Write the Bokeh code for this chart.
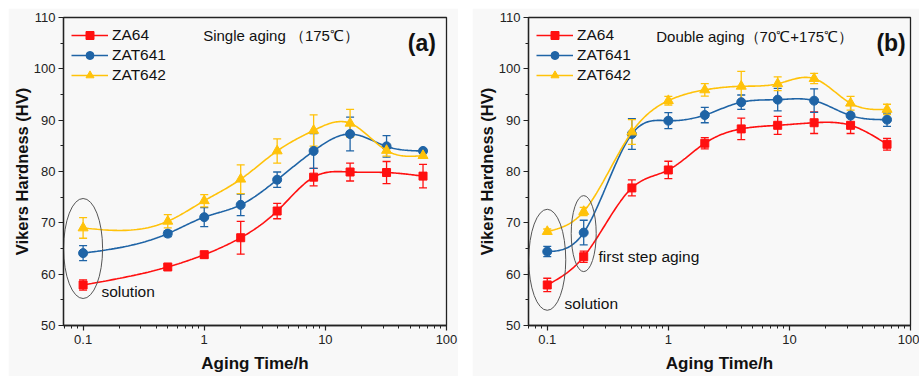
import numpy as np
from bokeh.plotting import figure
from bokeh.layouts import row, column
from bokeh.models import (ColumnDataSource, Whisker, TeeHead, FixedTicker, CustomJSTickFormatter,
                          Legend, LegendItem, Label, Range1d, Spacer)
from bokeh.core.properties import value
from bokeh.embed import file_html
from bokeh.resources import INLINE

# ---------------- data ----------------
series_names = ["ZA64", "ZAT641", "ZAT642"]

time_a = [0.1, 0.5, 1, 2, 4, 8, 16, 32, 64]
za64_a = [57.9, 61.4, 63.8, 67.1, 72.3, 78.9, 79.9, 79.8, 79.1]
za64_a_err = [1.0, 0.5, 0.6, 3.2, 1.5, 1.7, 1.75, 2.15, 2.3]
zat641_a = [64.1, 67.9, 71.1, 73.5, 78.4, 84.0, 87.3, 84.9, 84.0]
zat641_a_err = [1.45, 0.6, 1.85, 2.1, 1.5, 3.4, 3.3, 2.1, 0.4]
zat642_a = [69.0, 70.3, 74.3, 78.5, 84.0, 88.0, 89.4, 84.1, 83.1]
zat642_a_err = [2.0, 1.3, 1.2, 2.8, 2.35, 3.05, 2.7, 1.1, 0.5]

time_b = [0.1, 0.2, 0.5, 1, 2, 4, 8, 16, 32, 64]
za64_b = [57.9, 63.4, 76.8, 80.3, 85.5, 88.3, 89.0, 89.5, 89.0, 85.3]
za64_b_err = [1.3, 1.1, 1.55, 1.7, 1.1, 2.1, 1.75, 2.1, 1.6, 1.15]
zat641_b = [64.4, 68.1, 87.3, 89.9, 91.0, 93.5, 94.0, 93.8, 90.9, 90.1]
zat641_b_err = [1.0, 2.4, 3.0, 1.55, 1.5, 1.4, 2.2, 2.3, 2.0, 1.3]
zat642_b = [68.3, 72.2, 87.7, 93.8, 95.9, 96.6, 97.1, 98.1, 93.3, 92.1]
zat642_b_err = [0.5, 0.8, 2.4, 0.85, 1.2, 2.9, 1.35, 1.0, 1.35, 1.0]

x_ticks = [0.1, 1, 10, 100]
x_tick_labels = ["0.1", "1", "10", "100"]
x_minor = [0.07, 0.08, 0.09] + [k * 0.1 for k in range(2, 10)] + list(range(2, 10)) + [k * 10 for k in range(2, 10)]
y_ticks = [50, 60, 70, 80, 90, 100, 110]
y_minor = [55, 65, 75, 85, 95, 105]

colors = ["#FF1010", "#1F64A6", "#FFC20A"]
markers = ["square", "circle", "triangle"]
msizes = [8, 9, 10]

FONT = "Liberation Sans"
BG = "#f8f8f8"


def natural_spline(x, y, n=30):
    t = np.log10(np.asarray(x, float))
    y = np.asarray(y, float)
    m = len(t)
    h = np.diff(t)
    A = np.zeros((m, m))
    r = np.zeros(m)
    A[0, 0] = 1
    A[-1, -1] = 1
    for i in range(1, m - 1):
        A[i, i - 1] = h[i - 1]
        A[i, i] = 2 * (h[i - 1] + h[i])
        A[i, i + 1] = h[i]
        r[i] = 6 * ((y[i + 1] - y[i]) / h[i] - (y[i] - y[i - 1]) / h[i - 1])
    M = np.linalg.solve(A, r)
    xs, ys = [], []
    for i in range(m - 1):
        tt = np.linspace(t[i], t[i + 1], n, endpoint=(i == m - 2))
        hi = h[i]
        s = (M[i] * (t[i + 1] - tt) ** 3 / (6 * hi) + M[i + 1] * (tt - t[i]) ** 3 / (6 * hi)
             + (y[i] / hi - M[i] * hi / 6) * (t[i + 1] - tt) + (y[i + 1] / hi - M[i + 1] * hi / 6) * (tt - t[i]))
        xs.extend(10 ** tt)
        ys.extend(s)
    return xs, ys


def make_panel(width, x_start, border_left, border_right, times, vals, errs,
               title_txt, title_pos, tag, tag_pos, notes, ellipses):
    p = figure(width=width, height=368, x_axis_type="log",
               x_range=Range1d(x_start, 100), y_range=Range1d(50, 110),
               output_backend="svg", toolbar_location=None,
               min_border_left=border_left, min_border_right=border_right,
               min_border_top=9, min_border_bottom=51,
               background_fill_color=BG, border_fill_color=BG)
    p.grid.visible = False
    p.outline_line_color = "#222222"
    p.outline_line_width = 1.3

    p.xaxis.ticker = FixedTicker(ticks=x_ticks, minor_ticks=x_minor)
    p.xaxis.formatter = CustomJSTickFormatter(args=dict(tv=x_ticks, tl=x_tick_labels), code="""
        let best = 0, bd = 1e9;
        for (let i = 0; i < tv.length; i++) {
            const d = Math.abs(Math.log10(tv[i]) - Math.log10(tick));
            if (d < bd) { bd = d; best = i; }
        }
        return tl[best];
    """)
    p.yaxis.ticker = FixedTicker(ticks=y_ticks, minor_ticks=y_minor)
    for ax in (p.xaxis, p.yaxis):
        ax.axis_line_color = "#222222"
        ax.axis_line_width = 1.3
        ax.major_tick_line_color = "#222222"
        ax.minor_tick_line_color = "#222222"
        ax.major_tick_line_width = 1.2
        ax.major_tick_out = 5
        ax.major_tick_in = 0
        ax.minor_tick_out = 3
        ax.minor_tick_in = 0
        ax.major_label_text_font = FONT
        ax.major_label_text_font_size = "13px"
        ax.major_label_text_color = "#222222"
        ax.axis_label_text_font = FONT
        ax.axis_label_text_font_style = "bold"
        ax.axis_label_text_color = "#111111"
    p.xaxis.major_label_standoff = 4
    p.yaxis.major_label_standoff = 3
    p.xaxis.axis_label = "Aging Time/h"
    p.xaxis.axis_label_text_font_size = "17px"
    p.xaxis.axis_label_standoff = 7
    p.yaxis.axis_label = "Vikers Hardness (HV)"
    p.yaxis.axis_label_text_font_size = "16.5px"
    p.yaxis.axis_label_standoff = 0

    items = []
    for k in range(3):
        c = colors[k]
        sx, sy = natural_spline(times, vals[k])
        lr = p.line(sx, sy, line_color=c, line_width=1.6)
        lo = [v - e for v, e in zip(vals[k], errs[k])]
        up = [v + e for v, e in zip(vals[k], errs[k])]
        src = ColumnDataSource(dict(x=times, y=vals[k], lower=lo, upper=up))
        w = Whisker(source=src, base="x", lower="lower", upper="upper",
                    line_color=c, line_width=1.3,
                    upper_head=TeeHead(size=8, line_color=c, line_width=1.3),
                    lower_head=TeeHead(size=8, line_color=c, line_width=1.3))
        p.add_layout(w)
        sr = p.scatter("x", "y", source=src, marker=markers[k], size=msizes[k],
                       fill_color=c, line_color=c)
        items.append(LegendItem(label=series_names[k], renderers=[lr, sr]))

    leg = Legend(items=items, location="top_left", margin=2, padding=6,
                 spacing=0, glyph_width=37, glyph_height=20, label_height=20,
                 label_standoff=4, label_text_font=FONT, label_text_font_size="15.5px",
                 label_text_color="#111111", background_fill_alpha=0, border_line_alpha=0)
    p.add_layout(leg)

    for (ex, ey, ew, eh) in ellipses:
        p.ellipse(x=[ex], y=[ey], width=ew, height=eh, width_units="screen",
                  height_units="screen", fill_color=None, line_color="#555555", line_width=1)

    p.add_layout(Label(x=title_pos[0], y=title_pos[1], text=title_txt, text_font=FONT,
                       text_font_size="15px", text_baseline="middle", text_color="#111111"))
    p.add_layout(Label(x=tag_pos[0], y=tag_pos[1], text=tag, text_font=FONT,
                       text_font_size="23px", text_font_style="bold", text_align="right",
                       text_baseline="middle", text_color="#111111"))
    for (tx, ty, tt) in notes:
        p.add_layout(Label(x=tx, y=ty, text=tt, text_font=FONT, text_font_size="15.5px",
                           text_baseline="middle", text_color="#111111"))
    return p


pa = make_panel(450, 0.0689, 55, 12, time_a,
                [za64_a, zat641_a, zat642_a], [za64_a_err, zat641_a_err, zat642_a_err],
                "Single aging （175℃）", (0.98, 106.5), "(a)", (81.8, 105.1),
                [(0.1416, 56.6, "solution")],
                [(0.1, 65.0, 39, 100)])

pb = make_panel(447, 0.070, 56, 9, time_b,
                [za64_b, zat641_b, zat642_b], [za64_b_err, zat641_b_err, zat642_b_err],
                "Double aging（70℃+175℃）", (0.794, 106.3), "(b)", (91.4, 105.1),
                [(0.265, 63.4, "first step aging"), (0.139, 54.3, "solution")],
                [(0.1, 62.8, 37, 101), (0.2, 67.9, 25, 76)])

layout = column(Spacer(height=8), row(Spacer(width=8), pa, Spacer(width=14), pb))

open("out.html", "w").write(file_html(layout, INLINE))
